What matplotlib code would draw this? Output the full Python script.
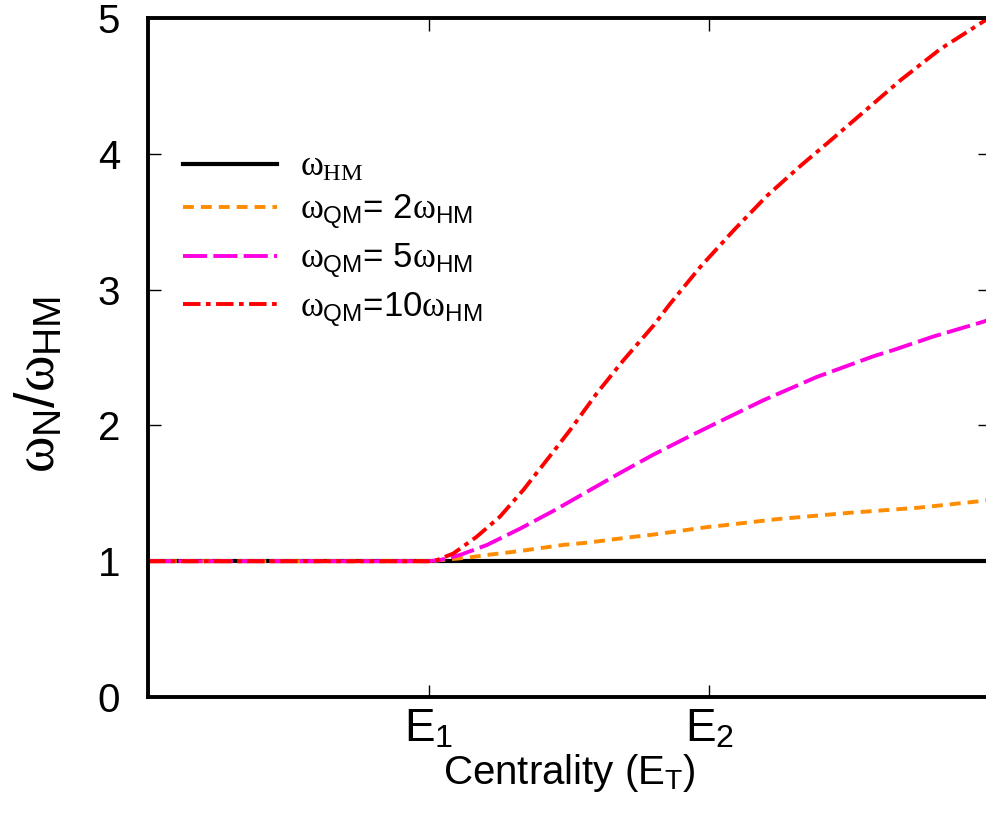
import numpy as np
import matplotlib
matplotlib.use('Agg')
import matplotlib.pyplot as plt

plt.rcParams['font.family'] = ['Liberation Sans', 'DejaVu Sans']
plt.rcParams['mathtext.fontset'] = 'custom'
plt.rcParams['mathtext.rm'] = 'Liberation Sans'
plt.rcParams['mathtext.it'] = 'Liberation Serif'
plt.rcParams['mathtext.bf'] = 'Liberation Sans:bold'

# centrality axis: E1 = 1, E2 = 2
x_hm = [0.0, 3.0]
y_hm = [1.0, 1.0]

x_2 = [0.0, 0.5, 1.0, 1.071, 1.148, 1.224, 1.326, 1.479, 1.563, 1.732, 1.801, 1.988,
       2.038, 2.242, 2.497, 2.751, 3.0]
y_2 = [1.0, 1.0, 1.0, 1.013, 1.029, 1.05, 1.075, 1.12, 1.136, 1.18, 1.196, 1.25,
       1.261, 1.31, 1.356, 1.395, 1.45]

x_5 = [0.0, 0.5, 1.0, 1.041, 1.112, 1.207, 1.326, 1.444, 1.563, 1.682, 1.801, 1.92,
       2.038, 2.191, 2.382, 2.586, 2.656, 2.799, 2.977, 3.0]
y_5 = [1.0, 1.0, 1.0, 1.009, 1.046, 1.119, 1.24, 1.37, 1.51, 1.65, 1.785, 1.91,
       2.03, 2.184, 2.356, 2.51, 2.555, 2.655, 2.764, 2.78]

x_10 = [0.0, 0.5, 1.0, 1.029, 1.088, 1.171, 1.254, 1.337, 1.421, 1.504, 1.599, 1.694,
        1.801, 1.86, 1.967, 2.086, 2.205, 2.324, 2.43, 2.537, 2.68, 2.822, 2.977, 3.0]
y_10 = [1.0, 1.0, 1.0, 1.008, 1.057, 1.18, 1.328, 1.524, 1.745, 1.966, 2.236, 2.48,
        2.735, 2.895, 3.165, 3.435, 3.69, 3.91, 4.095, 4.285, 4.54, 4.77, 4.975, 5.0]

xticks = [1, 2]
xticklabels = [r'$\mathrm{E}_{\mathrm{1}}$', r'$\mathrm{E}_{\mathrm{2}}$']

fig = plt.figure(figsize=(9.86, 8.14), dpi=100)
ax = fig.add_axes([148/986, 1-697/814, 842/986, 679/814])

lw = 2.8
ax.plot(x_hm, y_hm, color='black', lw=3, label=r'$\omega_{HM}$')
ax.plot(x_2, y_2, color='#ff8c00', lw=lw, linestyle=(0, (2.8, 1.8)),
        label=r'$\omega_{\mathrm{QM}}$= 2$\omega_{\mathrm{HM}}$')
ax.plot(x_5, y_5, color='#ff00e0', lw=lw, linestyle=(0, (6.2, 1.6)),
        label=r'$\omega_{\mathrm{QM}}$= 5$\omega_{\mathrm{HM}}$')
ax.plot(x_10, y_10, color='#ff0000', lw=lw, linestyle=(0, (4.5, 1.4, 1.2, 1.4)),
        label=r'$\omega_{\mathrm{QM}}$=10$\omega_{\mathrm{HM}}$')

ax.set_xlim(0, 3)
ax.set_ylim(0, 5)
ax.set_xticks(xticks)
ax.set_xticklabels(xticklabels, fontsize=33)
ax.set_yticks([0, 1, 2, 3, 4, 5])
ax.tick_params(axis='y', labelsize=29, pad=20)
ax.tick_params(axis='x', pad=8)
ax.tick_params(direction='in', length=9, width=1, top=True, right=True)
for s in ax.spines.values():
    s.set_linewidth(2.8)

ax.set_xlabel(r'Centrality ($\mathrm{E}_{\mathrm{T}}$)', fontsize=29, labelpad=0)
ax.set_ylabel(r'$\omega_{\mathrm{N}}\mathrm{/}\omega_{\mathrm{HM}}$', fontsize=40)
ax.yaxis.set_label_coords(-0.097, 0.46)

ax.legend(loc='upper left', bbox_to_anchor=(0.005, 0.852), frameon=False, fontsize=25,
          handlelength=2.7, handletextpad=0.65, labelspacing=0.3)

plt.savefig('out.png', dpi=100)
